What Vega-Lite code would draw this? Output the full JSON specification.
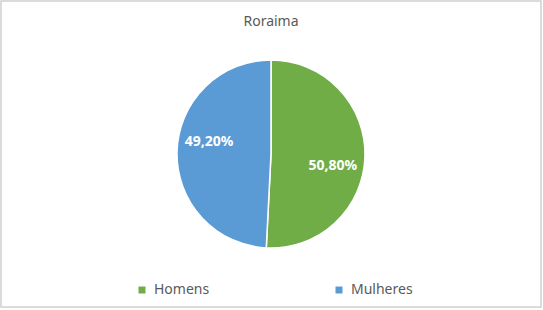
{
  "$schema": "https://vega.github.io/schema/vega-lite/v6.json",
  "width": 540,
  "height": 306,
  "padding": {"left": 1, "top": 1, "right": 2, "bottom": 3},
  "autosize": "none",
  "background": "white",
  "view": {"stroke": "#d0d0d0", "strokeWidth": 1.5},
  "config": {
    "font": "Noto Sans",
    "locale": {
      "number": {"decimal": ",", "thousands": ".", "grouping": [3], "currency": ["R$", ""]}
    }
  },
  "title": {
    "text": "Roraima",
    "fontSize": 14,
    "fontWeight": "normal",
    "color": "#595959",
    "anchor": "middle",
    "offset": -28
  },
  "data": {
    "values": [
      {"sexo": "Homens", "parcela": 0.508},
      {"sexo": "Mulheres", "parcela": 0.492}
    ]
  },
  "encoding": {
    "theta": {"field": "parcela", "type": "quantitative", "stack": true},
    "order": {"field": "sexo", "sort": "ascending"},
    "color": {
      "field": "sexo",
      "type": "nominal",
      "scale": {"domain": ["Homens", "Mulheres"], "range": ["#70AD47", "#5B9BD5"]},
      "legend": {
        "title": null,
        "orient": "none",
        "legendX": 134,
        "legendY": 282,
        "direction": "horizontal",
        "columns": 2,
        "columnPadding": 122,
        "symbolType": "square",
        "symbolSize": 49,
        "symbolStrokeWidth": 0,
        "labelFontSize": 14,
        "labelColor": "#595959",
        "labelOffset": 5
      }
    }
  },
  "layer": [
    {
      "mark": {"type": "arc", "radius": 94, "stroke": "white", "strokeWidth": 1.5}
    },
    {
      "mark": {
        "type": "text",
        "radius": 63,
        "thetaOffset": 0.16,
        "fill": "white",
        "fontWeight": "bold",
        "fontSize": 14
      },
      "encoding": {
        "text": {"field": "parcela", "type": "quantitative", "format": ".2%"},
        "color": {"value": "white"}
      }
    }
  ]
}
